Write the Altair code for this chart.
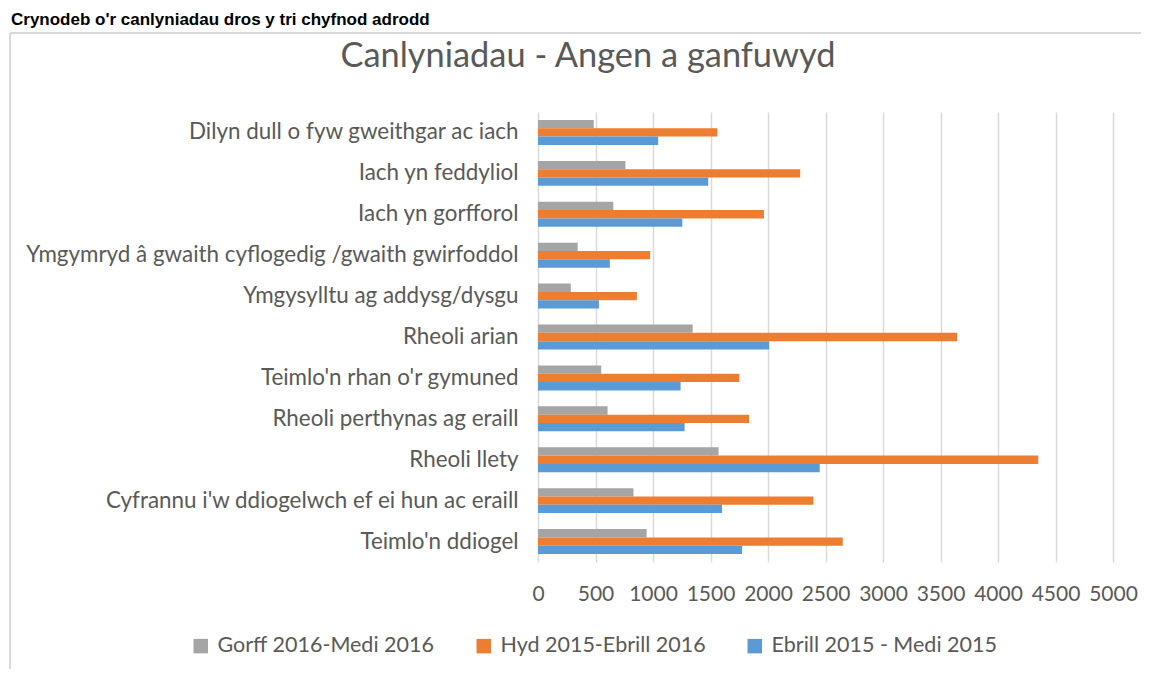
import altair as alt
import pandas as pd

heading = "Crynodeb o'r canlyniadau dros y tri chyfnod adrodd"
chart_title = "Canlyniadau - Angen a ganfuwyd"

categories = [
    "Dilyn dull o fyw gweithgar ac iach",
    "Iach yn feddyliol",
    "Iach yn gorfforol",
    "Ymgymryd â gwaith cyflogedig /gwaith gwirfoddol",
    "Ymgysylltu ag addysg/dysgu",
    "Rheoli arian",
    "Teimlo'n rhan o'r gymuned",
    "Rheoli perthynas ag eraill",
    "Rheoli llety",
    "Cyfrannu i'w ddiogelwch ef ei hun ac eraill",
    "Teimlo'n ddiogel",
]

series = ["Gorff 2016-Medi 2016", "Hyd 2015-Ebrill 2016", "Ebrill 2015 - Medi 2015"]
colors = ["#a5a5a5", "#ed7d31", "#5b9bd5"]

gorff_2016 = [485, 760, 655, 345, 285, 1345, 550, 605, 1570, 830, 945]
hyd_2015 = [1560, 2280, 1965, 975, 860, 3645, 1750, 1835, 4350, 2395, 2650]
ebrill_2015 = [1045, 1480, 1255, 625, 530, 2010, 1240, 1275, 2450, 1600, 1775]

x_ticks = list(range(0, 5001, 500))

rows = []
for vals, name in zip([gorff_2016, hyd_2015, ebrill_2015], series):
    for c, v in zip(categories, vals):
        rows.append({"category": c, "series": name, "value": v})
df = pd.DataFrame(rows)

FONT = "Lato"
GREY = "#595959"

bars = alt.Chart(df).mark_bar().encode(
    y=alt.Y("category:N", sort=categories,
            scale=alt.Scale(paddingInner=0.39, paddingOuter=0.195),
            axis=alt.Axis(title=None, ticks=False, domain=False, labelPadding=20,
                          labelFont=FONT, labelFontSize=22.4, labelColor=GREY,
                          labelLimit=700, grid=False)),
    x=alt.X("value:Q", scale=alt.Scale(domain=[0, 5000], nice=False),
            axis=alt.Axis(title=None, values=x_ticks, format="d", ticks=False, domain=False,
                          labelPadding=21, labelFont=FONT, labelFontSize=21,
                          labelColor=GREY, grid=True, gridColor="#d9d9d9",
                          gridWidth=1.5, labelFlush=False)),
    yOffset=alt.YOffset("series:N", sort=series, scale=alt.Scale(paddingInner=0, paddingOuter=0)),
    color=alt.Color("series:N", sort=series,
                    scale=alt.Scale(domain=series, range=colors),
                    legend=alt.Legend(title=None, orient="none", legendX=-348, legendY=523,
                                      direction="horizontal", symbolType="square",
                                      symbolSize=210, symbolStrokeWidth=0,
                                      labelFont=FONT, labelFontSize=21.5, labelColor=GREY,
                                      labelLimit=500, columnPadding=38, labelOffset=6)),
)

deco = pd.DataFrame({"t": [heading], "title": [chart_title]})

border_left = alt.Chart(deco).mark_rule(color="#d9d9d9", strokeWidth=2).encode(
    x=alt.value(-528), y=alt.value(-79), y2=alt.value(557))
border_top = alt.Chart(deco).mark_rule(color="#d9d9d9", strokeWidth=2).encode(
    x=alt.value(-528), x2=alt.value(603), y=alt.value(-79))
head = alt.Chart(deco).mark_text(align="left", baseline="alphabetic",
                                 font="Liberation Sans", fontWeight="bold",
                                 fontSize=17, color="black").encode(
    x=alt.value(-527), y=alt.value(-87), text="t:N")
title = alt.Chart(deco).mark_text(align="center", baseline="alphabetic",
                                  font=FONT, fontSize=34.4, color=GREY).encode(
    x=alt.value(50), y=alt.value(-45), text="title:N")

chart = alt.layer(border_left, border_top, head, title, bars).properties(
    width=575, height=450,
    padding={"left": 530, "top": 104, "right": 28, "bottom": 107},
    autosize=alt.AutoSizeParams(type="none"),
    background="white",
).configure_view(stroke=None)

chart.save("out.html", embed_options={"renderer": "svg", "actions": False})
